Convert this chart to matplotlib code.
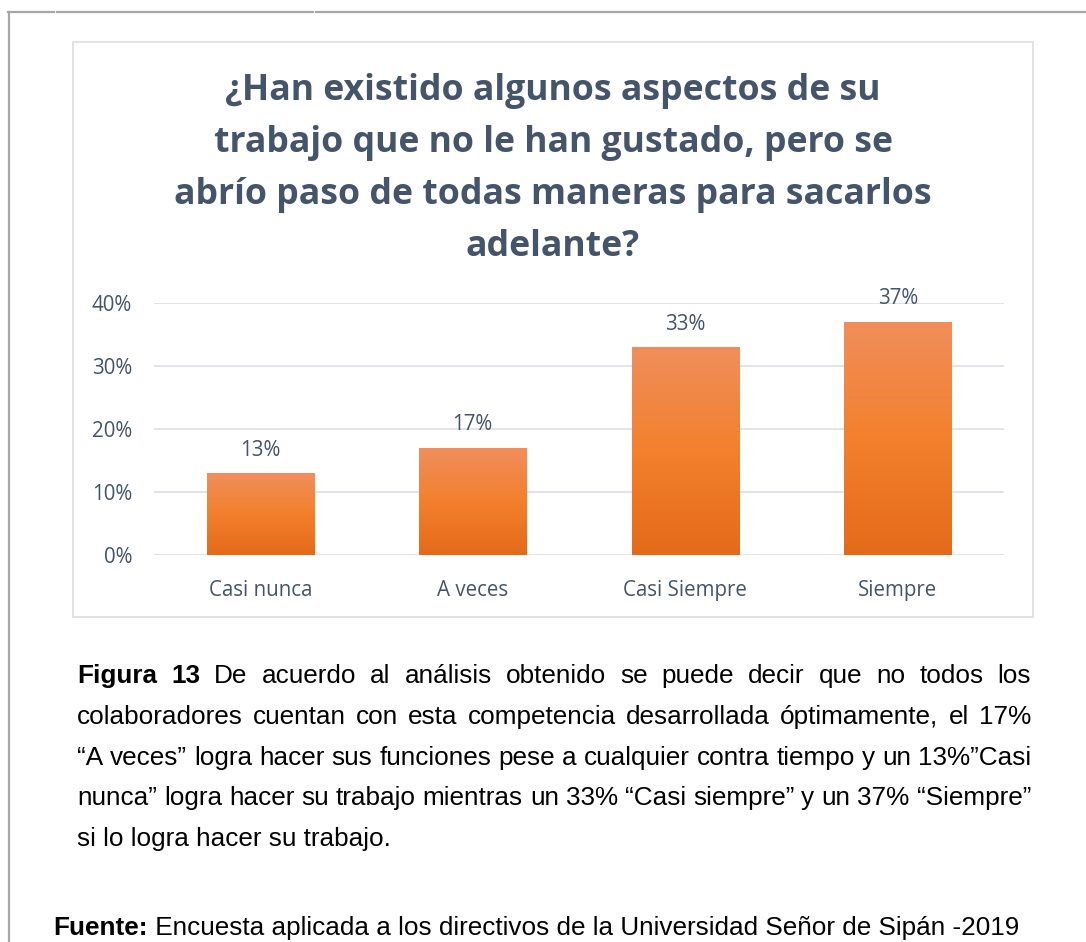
import numpy as np
import matplotlib
matplotlib.use("Agg")
import matplotlib.pyplot as plt
from matplotlib.colors import LinearSegmentedColormap
from matplotlib.patches import Rectangle
from matplotlib.lines import Line2D

# data
categories = ["Casi nunca", "A veces", "Casi Siempre", "Siempre"]
values = [13, 17, 33, 37]
yticks = [0, 10, 20, 30, 40]
title = ("¿Han existido algunos aspectos de su\ntrabajo que no le han gustado, pero se\n"
         "abrío paso de todas maneras para sacarlos\nadelante?")

caption_lines = [
    [("Figura", True), ("13", True), ("De", False), ("acuerdo", False), ("al", False),
     ("análisis", False), ("obtenido", False), ("se", False), ("puede", False),
     ("decir", False), ("que", False), ("no", False), ("todos", False), ("los", False)],
    [(w, False) for w in "colaboradores cuentan con esta competencia desarrollada óptimamente, el 17%".split()],
    [(w, False) for w in "“A veces” logra hacer sus funciones pese a cualquier contra tiempo y un 13%”Casi".split()],
    [(w, False) for w in "nunca” logra hacer su trabajo mientras un 33% “Casi siempre” y un 37% “Siempre”".split()],
]
last_line = "si lo logra hacer su trabajo."
source_bold = "Fuente:"
source_text = " Encuesta aplicada a los directivos de la Universidad Señor de Sipán -2019"

TXT = "#44546A"
W, H = 1086, 942

fig = plt.figure(figsize=(W / 100, H / 100), dpi=100)
fig.patch.set_facecolor("white")

# page / overlay axes in pixel coordinates
page = fig.add_axes([0, 0, 1, 1])
page.set_xlim(0, W)
page.set_ylim(H, 0)
page.axis("off")

# page border fragments
for xa, xb in [(8, 54), (57, 313), (316, W)]:
    page.add_line(Line2D([xa, xb], [12, 12], color="#A6A6A6", lw=1.6))
page.add_line(Line2D([9, 9], [12, H], color="#A6A6A6", lw=1.6))

# chart frame
page.add_patch(Rectangle((73, 42), 960, 575, fill=False, ec="#D9DDE3", lw=1.2))

page.text(553, 169, title, ha="center", va="center", fontsize=25.7, fontweight="bold",
          color=TXT, family="Open Sans", linespacing=1.6)

# chart axes
ax = fig.add_axes([154 / W, (H - 555) / H, 850 / W, 252 / H])
x = np.arange(len(categories))
bars = ax.bar(x, values, width=0.505, color="#F4802C", zorder=2)
ax.set_xlim(-0.5, len(categories) - 0.5)
ax.set_ylim(0, 40)
ax.set_yticks(yticks)
ax.set_yticklabels([f"{t}%" for t in yticks])
ax.set_xticks(x)
ax.set_xticklabels(categories)
ax.grid(axis="y", color="#DDE2E8", lw=1.3, zorder=0)
for s in ax.spines.values():
    s.set_visible(False)
ax.tick_params(length=0, labelcolor=TXT, labelsize=14.8)
ax.tick_params(axis="y", pad=15.8)
ax.tick_params(axis="x", pad=18)
for lab in ax.get_xticklabels() + ax.get_yticklabels():
    lab.set_family("Open Sans")

# gradient fill inside each bar
cmap = LinearSegmentedColormap.from_list("og", ["#E46A1A", "#F3802D", "#F08E5C"])
grad = np.linspace(0, 1, 256).reshape(-1, 1)
for b in bars:
    bx, bw, bh = b.get_x(), b.get_width(), b.get_height()
    im = ax.imshow(grad, cmap=cmap, origin="lower", aspect="auto",
                   extent=(bx, bx + bw, 0, bh), zorder=3)
    im.set_clip_path(b)
ax.set_xlim(-0.5, len(categories) - 0.5)
ax.set_ylim(0, 40)

for xi, v in zip(x, values):
    ax.annotate(f"{v}%", (xi, v), xytext=(0, 9), textcoords="offset points",
                ha="center", va="bottom", fontsize=14.8, color=TXT,
                family="Open Sans", annotation_clip=False)

# caption text, justified
CAP_FS = 18.8
fig.canvas.draw()
renderer = fig.canvas.get_renderer()


def word_width(t):
    return t.get_window_extent(renderer).width


line_y = [676, 717, 758, 798]
x0, x1 = 77, 1031
for words, y in zip(caption_lines, line_y):
    texts = [page.text(0, y, w, fontsize=CAP_FS, fontweight="bold" if b else "normal",
                       family="Liberation Sans", va="center", ha="left", color="black")
             for w, b in words]
    widths = [word_width(t) for t in texts]
    gap = (x1 - x0 - sum(widths)) / (len(texts) - 1)
    pos = x0
    for t, wd in zip(texts, widths):
        t.set_x(pos)
        pos += wd + gap

page.text(x0, 839, last_line, fontsize=CAP_FS, family="Liberation Sans", va="center", ha="left")
fb = page.text(53, 928, source_bold, fontsize=CAP_FS, fontweight="bold",
               family="Liberation Sans", va="center", ha="left")
fbw = word_width(fb)
page.text(53 + fbw, 928, source_text, fontsize=CAP_FS, family="Liberation Sans",
          va="center", ha="left")

fig.savefig("out.png", dpi=100)
